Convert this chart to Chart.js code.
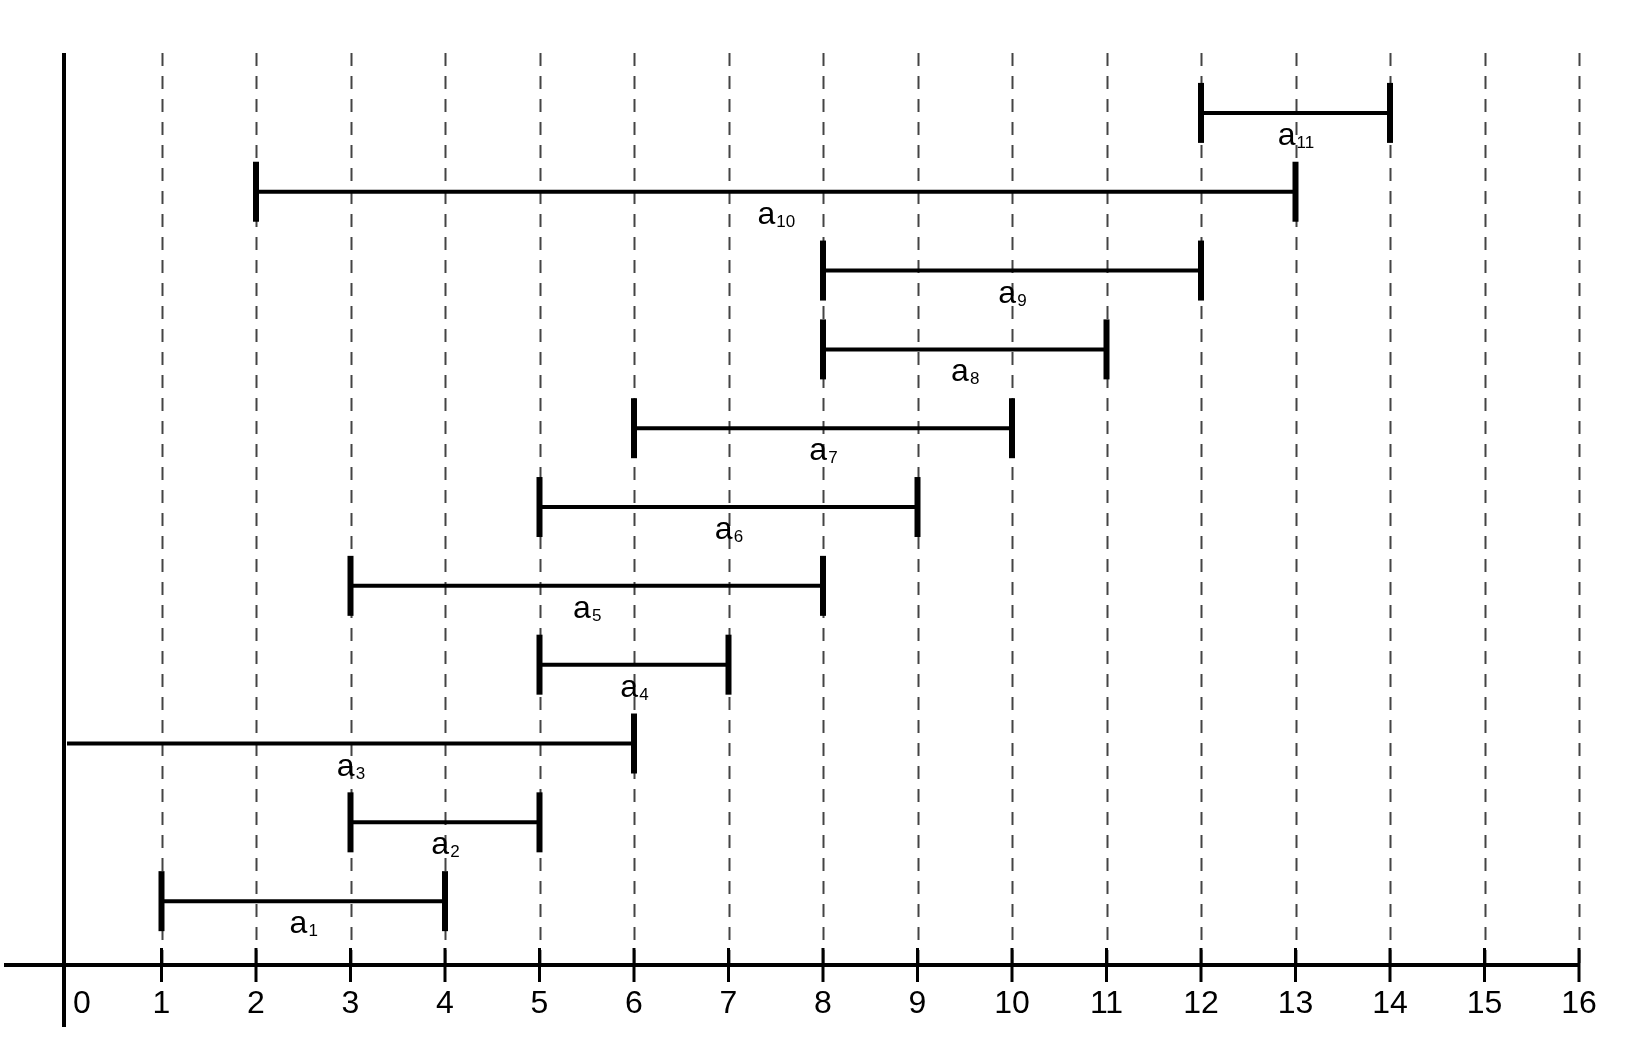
<!DOCTYPE html>
<html>
<head>
<meta charset="utf-8">
<script src="https://cdn.jsdelivr.net/npm/chart.js@4.4.0/dist/chart.umd.min.js"></script>
<style>
  html, body { margin: 0; padding: 0; background: #fff; }
  #wrap { width: 1641px; height: 1052px; }
</style>
</head>
<body>
<div id="wrap"><canvas id="chart" width="1641" height="1052"></canvas></div>
<script>
// --- data ---
const names = ['a1', 'a2', 'a3', 'a4', 'a5', 'a6', 'a7', 'a8', 'a9', 'a10', 'a11'];
const starts = [1, 3, 0, 5, 3, 5, 6, 8, 8, 2, 12];
const ends = [4, 5, 6, 7, 8, 9, 10, 11, 12, 13, 14];
const rows = [1, 2, 3, 4, 5, 6, 7, 8, 9, 10, 11];
const xTicks = [0, 1, 2, 3, 4, 5, 6, 7, 8, 9, 10, 11, 12, 13, 14, 15, 16];

const FONT = '"Liberation Sans", Arial, sans-serif';

// one line dataset per interval, with vertical caps at both ends
const datasets = names.map((n, i) => ({
    label: n,
    data: [{ x: starts[i], y: rows[i] }, { x: ends[i], y: rows[i] }],
    showLine: true,
    borderColor: '#000',
    borderWidth: 4,
    pointStyle: 'line',
    pointRotation: 90,
    pointRadius: starts[i] === 0 ? [0, 30] : 30,
    pointBorderWidth: 6,
    pointBorderColor: '#000',
    clip: false
}));

// axes, dashed grid and tick labels
const axesPlugin = {
    id: 'axes',
    beforeDatasetsDraw(chart) {
        const { ctx, chartArea, scales: { x, y } } = chart;
        const axisY = y.getPixelForValue(y.min);
        const yAxisX = x.getPixelForValue(0) - 3; // vertical axis sits a hair left of 0
        ctx.save();
        // dashed grid lines
        ctx.strokeStyle = '#444';
        ctx.lineWidth = 2;
        ctx.setLineDash([13, 10]);
        xTicks.slice(1).forEach(v => {
            const px = Math.round(x.getPixelForValue(v)) + 0.5;
            ctx.beginPath();
            ctx.moveTo(px, chartArea.top);
            ctx.lineTo(px, axisY);
            ctx.stroke();
        });
        ctx.setLineDash([]);
        // x axis
        ctx.strokeStyle = '#000';
        ctx.lineWidth = 4;
        ctx.beginPath();
        ctx.moveTo(4, axisY);
        ctx.lineTo(x.getPixelForValue(16), axisY);
        ctx.stroke();
        // y axis
        ctx.beginPath();
        ctx.moveTo(yAxisX, chartArea.top);
        ctx.lineTo(yAxisX, axisY + 62);
        ctx.stroke();
        // tick marks
        ctx.lineWidth = 3;
        xTicks.slice(1).forEach(v => {
            const px = x.getPixelForValue(v);
            ctx.beginPath();
            ctx.moveTo(px, axisY - 17);
            ctx.lineTo(px, axisY + 17);
            ctx.stroke();
        });
        // tick labels
        ctx.fillStyle = '#000';
        ctx.font = '32px ' + FONT;
        ctx.textBaseline = 'alphabetic';
        xTicks.forEach(v => {
            const px = x.getPixelForValue(v);
            if (v === 0) {
                ctx.textAlign = 'left';
                ctx.fillText('0', yAxisX + 9, axisY + 48);
            } else {
                ctx.textAlign = 'center';
                ctx.fillText(String(v), px, axisY + 48);
            }
        });
        ctx.restore();
    },
    afterDatasetsDraw(chart) {
        const { ctx, scales: { x, y } } = chart;
        ctx.save();
        ctx.fillStyle = '#000';
        ctx.textBaseline = 'alphabetic';
        ctx.textAlign = 'left';
        names.forEach((n, i) => {
            const mid = x.getPixelForValue((starts[i] + ends[i]) / 2);
            const py = y.getPixelForValue(rows[i]) + 32;
            const sub = n.slice(1);
            ctx.font = '32px ' + FONT;
            const wA = ctx.measureText('a').width;
            ctx.font = '17px ' + FONT;
            const wS = ctx.measureText(sub).width;
            const left = mid - (wA + wS) / 2;
            ctx.font = '32px ' + FONT;
            ctx.fillText('a', left, py);
            ctx.font = '17px ' + FONT;
            ctx.fillText(sub, left + wA + 1, py + 3);
        });
        ctx.restore();
    }
};

new Chart(document.getElementById('chart'), {
    type: 'scatter',
    data: { datasets },
    options: {
        responsive: false,
        animation: false,
        layout: { padding: { left: 67, right: 62, top: 53, bottom: 87 } },
        plugins: { legend: { display: false }, tooltip: { enabled: false } },
        scales: {
            x: { type: 'linear', min: 0, max: 16, display: false },
            y: { type: 'linear', min: 0.19, max: 11.76, display: false }
        }
    },
    plugins: [axesPlugin]
});
</script>
</body>
</html>
